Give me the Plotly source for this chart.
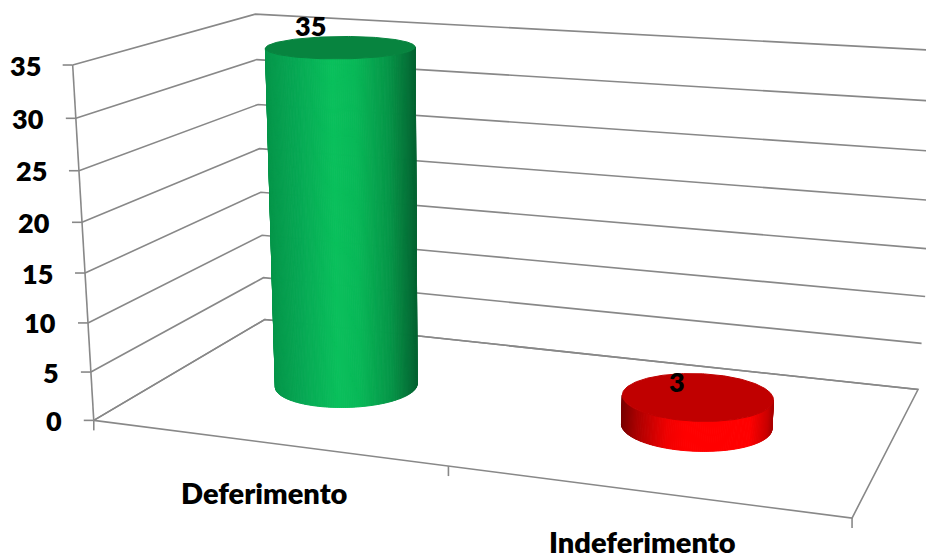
import numpy as np
import plotly.graph_objects as go

categories = ["Deferimento", "Indeferimento"]
values = [35, 3]
value_ticks = [0, 5, 10, 15, 20, 25, 30, 35]

VALUE_MAX = 35
WIDTH, HEIGHT = 926, 559
FONT = "Lato"
GRID = "#888888"

# Perspective camera of the chart box, solved from the box corners:
# (category, depth, value) in unit coordinates -> screen position.
box_corners = [
    ((0, 0, 0), (93.5, 420)), ((1, 0, 0), (852, 518.5)),
    ((0, 1, 0), (265, 320)), ((1, 1, 0), (918, 389)),
    ((0, 0, 1), (73, 65)), ((0, 1, 1), (255, 14)),
    ((1, 1, 1), (944, 51)),
]
rows, rhs = [], []
for (a, b, c), (u, v) in box_corners:
    rows.append([a, b, c, 1, 0, 0, 0, 0, -u * a, -u * b, -u * c])
    rows.append([0, 0, 0, 0, a, b, c, 1, -v * a, -v * b, -v * c])
    rhs += [u, v]
camera = np.append(np.linalg.lstsq(np.array(rows, float), np.array(rhs, float), rcond=None)[0], 1).reshape(3, 4)


def project(a, b, value):
    """Screen coordinates of a category/depth/value position."""
    a, b, value = np.broadcast_arrays(a, b, np.asarray(value, float) / VALUE_MAX)
    p = camera @ np.stack([a, b, value, np.ones_like(a, dtype=float)]).astype(float)
    return p[0] / p[2], p[1] / p[2]


def blend(stops, t):
    for (t0, c0), (t1, c1) in zip(stops, stops[1:]):
        if t <= t1:
            k = (t - t0) / (t1 - t0)
            c = [round(c0[i] + (c1[i] - c0[i]) * k) for i in range(3)]
            return f"rgb({c[0]},{c[1]},{c[2]})"
    c = stops[-1][1]
    return f"rgb({c[0]},{c[1]},{c[2]})"


fig = go.Figure()


def polyline(xs, ys, color=GRID, width=1.6):
    fig.add_trace(go.Scatter(x=list(xs), y=list(ys), mode="lines",
                             line=dict(color=color, width=width), hoverinfo="skip"))


# Walls: one line per value tick, running along the left side and the back.
for tick in value_ticks:
    x, y = project([0, 0, 1], [0, 1, 1], [tick] * 3)
    polyline(x, y)
    tx, ty = project(0, 0, tick)
    polyline([tx - 10, tx], [ty, ty])

# Floor outline and the vertical value axis.
x, y = project([0, 1, 1, 0, 0], [0, 0, 1, 1, 0], [0] * 5)
polyline(x, y)
x, y = project([0, 0], [0, 0], [0, VALUE_MAX])
polyline(x, y)

# Category ticks hanging below the front edge.
for k in range(len(categories) + 1):
    tx, ty = project(k / len(categories), 0, 0)
    polyline([tx, tx], [ty, ty + 10])

# Cylinders.
shading = [
    [(0.0, (6, 150, 74)), (0.2, (7, 168, 84)), (0.45, (10, 192, 92)), (0.6, (9, 184, 88)),
     (0.82, (6, 150, 72)), (1.0, (5, 100, 50))],
    [(0.0, (120, 0, 0)), (0.1, (170, 0, 0)), (0.3, (240, 0, 0)), (0.42, (255, 0, 0)), (0.85, (255, 0, 0)),
     (0.97, (200, 0, 0)), (1.0, (170, 0, 0))],
]
caps = ["#07843f", "#c00000"]
RADIUS_A, RADIUS_B = 0.098, 0.195
SEGMENTS = 240
theta = np.linspace(0, 2 * np.pi, SEGMENTS + 1)
for i, (value, stops, cap) in enumerate(zip(values, shading, caps)):
    a = (i + 0.5) / len(categories) + RADIUS_A * np.cos(theta)
    b = 0.5 + RADIUS_B * np.sin(theta)
    bx, by = project(a, b, 0)
    tx, ty = project(a, b, value)
    # Visible side: the arc of the base between its leftmost and rightmost
    # points that passes through the lowest point.
    left, right = int(np.argmin(bx[:-1])), int(np.argmax(bx[:-1]))
    forward = [(left + s) % SEGMENTS for s in range((right - left) % SEGMENTS + 1)]
    backward = [(left - s) % SEGMENTS for s in range((left - right) % SEGMENTS + 1)]
    arc = max(forward, backward, key=lambda seq: by[seq[len(seq) // 2]])
    xmin, xmax = bx[left], bx[right]
    for p, q in zip(arc, arc[1:]):
        t = float(np.clip((0.5 * (bx[p] + bx[q]) - xmin) / (xmax - xmin), 0, 1))
        color = blend(stops, t)
        fig.add_trace(go.Scatter(
            x=[bx[p], bx[q], tx[q], tx[p], bx[p]], y=[by[p], by[q], ty[q], ty[p], by[p]],
            mode="lines", fill="toself", fillcolor=color,
            line=dict(color=color, width=1), hoverinfo="skip"))
    fig.add_trace(go.Scatter(x=tx, y=ty, mode="lines", fill="toself", fillcolor=cap,
                             line=dict(color=cap, width=1), hoverinfo="skip"))

annotations = []


def label(x, y, text, size, anchor="center"):
    annotations.append(dict(x=x, y=y, text=text, showarrow=False, xanchor=anchor, yanchor="middle",
                            font=dict(family=FONT, size=size, color="#000000", weight=800),
                            xref="x", yref="y"))


for tick in value_ticks:
    tx, ty = project(0, 0, tick)
    label(tx - 30, ty, str(tick), 27, "right")

for i, name in enumerate(categories):
    tx, ty = project((i + 0.5) / len(categories), 0, 0)
    label(tx - 1, ty + 50, name, 29)

# Data labels sit slightly up and to the left of each cylinder's cap centre.
label_nudge = [(-30, -22), (-21, -15)]
for i, value in enumerate(values):
    tx, ty = project((i + 0.5) / len(categories), 0.5, value)
    label(tx + label_nudge[i][0], ty + label_nudge[i][1], str(value), 27)

fig.update_layout(
    width=WIDTH, height=HEIGHT, margin=dict(l=0, r=0, t=0, b=0),
    paper_bgcolor="white", plot_bgcolor="white", showlegend=False, annotations=annotations,
    xaxis=dict(range=[0, WIDTH], visible=False, fixedrange=True),
    yaxis=dict(range=[HEIGHT, 0], visible=False, fixedrange=True),
)
fig.write_html("out.html", config={"displayModeBar": False})
